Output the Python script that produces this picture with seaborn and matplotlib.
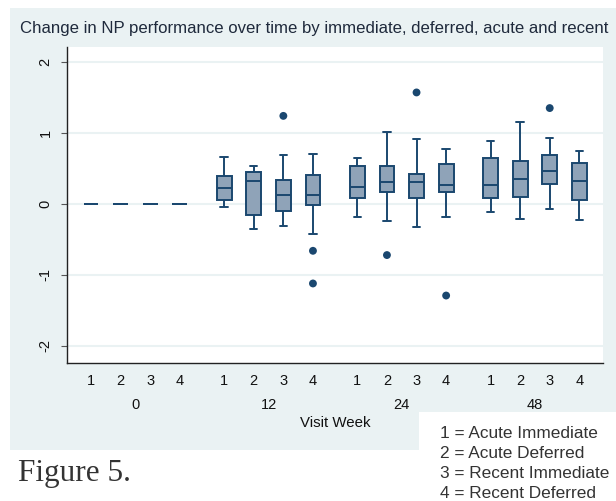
import matplotlib
matplotlib.use('Agg')
from matplotlib import pyplot as plt
from matplotlib import transforms
from matplotlib.patches import Rectangle
import pandas as pd
import seaborn as sns

weeks = ['0', '12', '24', '48']
groups = ['1', '2', '3', '4']
legend_lines = ['1 = Acute Immediate', '2 = Acute Deferred', '3 = Recent Immediate', '4 = Recent Deferred']
title = 'Change in NP performance over time by immediate, deferred, acute and recent'

# Box summaries, ordered week 0..48, group 1..4 within each week
whisker_low = [0, 0, 0, 0,
               -0.04, -0.35, -0.31, -0.43,
               -0.19, -0.24, -0.32, -0.19,
               -0.11, -0.21, -0.07, -0.22]
quart_low = [0, 0, 0, 0,
             0.06, -0.155, -0.10, -0.01,
             0.085, 0.17, 0.08, 0.17,
             0.08, 0.10, 0.28, 0.05]
median = [0, 0, 0, 0,
          0.23, 0.33, 0.12, 0.13,
          0.24, 0.31, 0.31, 0.26,
          0.26, 0.35, 0.465, 0.33]
quart_high = [0, 0, 0, 0,
              0.39, 0.45, 0.34, 0.41,
              0.53, 0.535, 0.42, 0.56,
              0.65, 0.605, 0.69, 0.58]
whisker_high = [0, 0, 0, 0,
                0.66, 0.54, 0.69, 0.71,
                0.64, 1.01, 0.91, 0.77,
                0.89, 1.155, 0.925, 0.74]

outlier_week = ['12', '12', '12', '24', '24', '24', '48']
outlier_group = ['3', '4', '4', '2', '3', '4', '3']
outlier_value = [1.24, -0.66, -1.12, -0.72, 1.57, -1.29, 1.35]

NAVY = '#1a476f'
FILL = '#8fa3b8'
PANEL = '#eaf2f3'
GROUP_GAP = 4.5  # slots per week block (4 boxes + 0.5 spacer)


def slot(week, group):
    return weeks.index(week) * GROUP_GAP + groups.index(group)


rows = []
i = 0
for w in weeks:
    for g in groups:
        for v in (whisker_low[i], quart_low[i], median[i], quart_high[i], whisker_high[i]):
            rows.append({'week': w, 'group': g, 'pos': slot(w, g), 'value': v})
        i += 1
boxes = pd.DataFrame(rows)
outliers = pd.DataFrame({'week': outlier_week, 'group': outlier_group, 'value': outlier_value})
outliers['pos'] = [slot(w, g) for w, g in zip(outlier_week, outlier_group)]

sns.set_theme(style='white')
plt.rcParams['font.family'] = ['Liberation Sans', 'DejaVu Sans']

fig = plt.figure(figsize=(6.16, 5.01), dpi=100)
fig.patch.set_facecolor('white')
fig.add_artist(Rectangle((10 / 616, 1 - 450 / 501), 606 / 616, 442 / 501,
                         transform=fig.transFigure, facecolor=PANEL, edgecolor='none', zorder=-10))
fig.add_artist(Rectangle((419 / 616, 0), 197 / 616, 89 / 501,
                         transform=fig.transFigure, facecolor='white', edgecolor='none', zorder=-5))

ax = fig.add_axes([67 / 616, 1 - 363 / 501, 536 / 616, 316 / 501])
ax.set_facecolor('white')

sns.boxplot(data=boxes, x='pos', y='value', native_scale=True, whis=(0, 100),
            width=0.5, color=FILL, linecolor=NAVY, saturation=1, linewidth=1.4,
            showfliers=False, ax=ax)
sns.scatterplot(data=outliers, x='pos', y='value', color=NAVY, s=32, edgecolor='none',
                legend=False, ax=ax, zorder=5)

ax.set_ylim(-2.24, 2.21)
ax.set_xlim(-0.81, 17.3)
ax.set_yticks([-2, -1, 0, 1, 2])
ax.set_yticklabels(['-2', '-1', '0', '1', '2'], rotation=90, va='center')
ax.yaxis.grid(True, color=PANEL, linewidth=1.5)
ax.set_axisbelow(True)
ax.set_xticks([slot(w, g) for w in weeks for g in groups])
ax.set_xticklabels(groups * len(weeks))
ax.tick_params(axis='x', length=0, pad=8, labelsize=10.5, labelcolor='#111111')
ax.tick_params(axis='y', left=True, length=4.5, width=0.8, color='#555555', pad=6,
               labelsize=10.5, labelcolor='#111111')
ax.set_xlabel('')
ax.set_ylabel('')
for side in ('top', 'right'):
    ax.spines[side].set_visible(False)
for side in ('left', 'bottom'):
    ax.spines[side].set_color('#222222')
    ax.spines[side].set_linewidth(1.0)

blend = transforms.blended_transform_factory(ax.transData, fig.transFigure)
for w in weeks:
    center = (slot(w, groups[0]) + slot(w, groups[-1])) / 2
    ax.text(center, 1 - 405 / 501, w, transform=blend, ha='center', va='center',
            fontsize=10.5, color='#111111')
fig.text((67 + 603) / 2 / 616, 1 - 423 / 501, 'Visit Week', ha='center', va='center',
         fontsize=10.8, color='#111111')

fig.text(20 / 616, 1 - 29 / 501, title, ha='left', va='center', fontsize=12.1, color='#1f2a3c')

for k, line in enumerate(legend_lines):
    fig.text(440 / 616, 1 - (433 + 20 * k) / 501, line, ha='left', va='center',
             fontsize=12.4, color='#333333')

fig.text(18 / 616, 1 - 473 / 501, 'Figure 5.', ha='left', va='center', fontsize=22.5,
         family=['Liberation Serif', 'DejaVu Serif'], color='#333333')

fig.savefig('out.png', dpi=100)
